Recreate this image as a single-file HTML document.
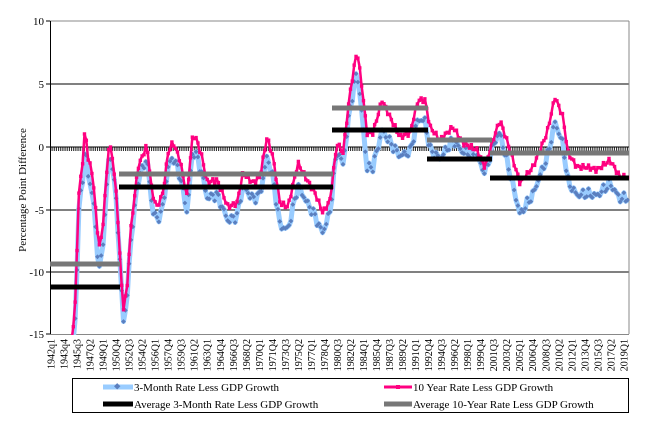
<!DOCTYPE html>
<html><head><meta charset="utf-8"><style>
html,body{margin:0;padding:0;background:#fff;}
svg{display:block;font-family:"Liberation Serif",serif;}
</style></head><body>
<svg id="c" width="655" height="444" viewBox="0 0 655 444" xmlns="http://www.w3.org/2000/svg">
<rect width="655" height="444" fill="#fff"/>
<g stroke="#000" stroke-width="1">
<line x1="50" y1="21" x2="629" y2="21" stroke="#888"/>
<line x1="50" y1="84" x2="629" y2="84"/>
<line x1="50" y1="210" x2="629" y2="210"/>
<line x1="50" y1="272" x2="629" y2="272"/>
<line x1="50" y1="334.5" x2="629" y2="334.5" stroke="#888"/>
<line x1="629" y1="21" x2="629" y2="334" stroke="#888"/>
<line x1="50.5" y1="21" x2="50.5" y2="334"/>
<line x1="50" y1="147" x2="629" y2="147"/>
</g>
<g id="ticks" stroke="#000" stroke-width="0.8"></g>
<g font-size="11" text-anchor="end">
<text x="44" y="25">10</text><text x="44" y="88">5</text><text x="44" y="151">0</text>
<text x="44" y="214">-5</text><text x="44" y="276">-10</text><text x="44" y="338">-15</text>
<line x1="46" y1="21" x2="50" y2="21" stroke="#000"/><line x1="46" y1="84" x2="50" y2="84" stroke="#000"/>
<line x1="46" y1="147" x2="50" y2="147" stroke="#000"/><line x1="46" y1="210" x2="50" y2="210" stroke="#000"/>
<line x1="46" y1="272" x2="50" y2="272" stroke="#000"/><line x1="46" y1="334" x2="50" y2="334" stroke="#000"/>
</g>
<text transform="translate(26,190) rotate(-90)" font-size="11" text-anchor="middle">Percentage Point Difference</text>
<g id="series"></g>
<g stroke-width="5" stroke-linecap="butt">
<line x1="50" y1="264" x2="120" y2="264" stroke="#777"/>
<line x1="50" y1="287" x2="120" y2="287" stroke="#000"/>
<line x1="119" y1="174" x2="333" y2="174" stroke="#777"/>
<line x1="119" y1="187" x2="333" y2="187" stroke="#000"/>
<line x1="332" y1="108" x2="428" y2="108" stroke="#777"/>
<line x1="332" y1="130" x2="428" y2="130" stroke="#000"/>
<line x1="427" y1="140" x2="492" y2="140" stroke="#777"/>
<line x1="427" y1="159" x2="492" y2="159" stroke="#000"/>
<line x1="490" y1="153" x2="629" y2="153" stroke="#777"/>
<line x1="490" y1="178" x2="629" y2="178" stroke="#000"/>
</g>
<g id="xl" font-size="10"></g>
<rect x="72.5" y="378.5" width="556" height="34" fill="#fff" stroke="#000"/>
<g font-size="11">
<line x1="103" y1="387" x2="133" y2="387" stroke="#99ccff" stroke-width="5"/>
<rect x="115" y="384" width="4.5" height="4.5" fill="#5b7fbf" transform="rotate(45 117.2 386.2)"/>
<text x="134" y="391">3-Month Rate Less GDP Growth</text>
<line x1="384" y1="387" x2="412" y2="387" stroke="#ff0080" stroke-width="3"/>
<rect x="396" y="385" width="4" height="4" fill="#ff0080"/>
<text x="413" y="391">10 Year Rate Less GDP Growth</text>
<line x1="103" y1="404" x2="133" y2="404" stroke="#000" stroke-width="5"/>
<text x="134" y="408">Average 3-Month Rate Less GDP Growth</text>
<line x1="384" y1="404" x2="412" y2="404" stroke="#777" stroke-width="5"/>
<text x="413" y="408">Average 10-Year Rate Less GDP Growth</text>
</g>
</svg>
<script>
(function(){
var NS="http://www.w3.org/2000/svg";
function el(t,a,p){var e=document.createElementNS(NS,t);for(var k in a)e.setAttribute(k,a[k]);p.appendChild(e);return e;}
var svg=document.getElementById('c');
var ticks=document.getElementById('ticks');
var X0=51,DX=1.86,N=311;
for(var i=0;i<N;i++){var x=X0+i*DX;if(x>629)break;el('line',{x1:x,y1:147,x2:x,y2:151},ticks);}
var labs="1942q1,1943q4,1945q3,1947Q2,1949Q1,1950Q4,1952Q3,1954Q2,1956Q1,1957Q4,1959Q3,1961Q2,1963Q1,1964Q4,1966Q3,1968Q2,1970Q1,1971Q4,1973Q3,1975Q2,1977Q1,1978Q4,1980Q3,1982Q2,1984Q1,1985Q4,1987Q3,1989Q2,1991Q1,1992Q4,1994Q3,1996Q2,1998Q1,1999Q4,2001Q3,2003Q2,2005Q1,2006Q4,2008Q3,2010Q2,2012Q1,2013Q4,2015Q3,2017Q2,2019Q1".split(',');
var xl=document.getElementById('xl');
labs.forEach(function(l,k){var x=X0+k*13.02+3.5;var t=el('text',{transform:'translate('+x+',339) rotate(-90)','text-anchor':'end'},xl);t.textContent=l;});
function Y(v){return 147-v*12.6;}
function V(y){return (147-y)/12.6;}
var P=[[51,420],[66,380],[72,337],[75,310],[79,190],[82,170],[85,128],[88,157],[93,177],[97,227],[100,250],[103,223],[107,170],[109,143],[113,160],[117,203],[120,257],[123,310],[127,290],[130,237],[133,210],[138,167],[147,145],[152,193],[157,207],[163,193],[168,153],[173,142],[180,160],[187,197],[192,140],[195,135],[202,157],[207,182],[217,180],[228,207],[237,203],[243,173],[253,183],[260,177],[267,137],[273,157],[280,203],[288,207],[298,163],[307,180],[315,193],[323,213],[330,200],[337,143],[343,153],[350,93],[357,50],[362,87],[367,133],[373,133],[382,100],[390,117],[400,137],[410,133],[418,100],[425,100],[430,127],[440,140],[453,127],[463,143],[477,150],[485,167],[493,140],[500,120],[510,150],[520,183],[533,167],[547,133],[555,97],[563,117],[568,153],[577,167],[587,167],[597,170],[610,160],[620,177],[629,177]];
var O=[[51,-1],[95,-1.5],[100,-1.8],[110,-0.8],[120,-0.5],[124,-0.9],[140,-1],[200,-1.3],[240,-1],[280,-1.8],[320,-1.8],[335,-0.5],[357,-1.6],[367,-2.8],[380,-2.5],[400,-1.5],[418,-1.5],[430,-1.8],[470,-0.5],[495,-0.5],[505,-1.5],[520,-2.5],[540,-2],[555,-2],[570,-2.3],[600,-2],[629,-1.6]];
function interp(A,x){if(x<=A[0][0])return A[0][1];for(var i=1;i<A.length;i++){if(x<=A[i][0]){var a=A[i-1],b=A[i];return a[1]+(b[1]-a[1])*(x-a[0])/(b[0]-a[0]);}}return A[A.length-1][1];}
var pp=[],bp=[];
for(var i=0;i<N;i++){var x=X0+i*DX;if(x>629.5)break;var py=interp(P,x)+Math.sin(i*2.3)*2.5;var v=V(py);var w=Math.sin(i*1.7)*0.25;var bv=v+interp(O,x)+w;pp.push([x,py]);bp.push([x,Y(bv)]);}
var g=document.getElementById('series');
var defs=el('defs',{},svg);var cp=el('clipPath',{id:'cl'},defs);el('rect',{x:50,y:15,width:580,height:320},cp);
g.setAttribute('clip-path','url(#cl)');
function pts(a){return a.map(function(p){return p[0].toFixed(1)+','+p[1].toFixed(1);}).join(' ');}
el('polyline',{points:pts(bp),fill:'none',stroke:'#99ccff','stroke-width':5,'stroke-linejoin':'round'},g);
bp.forEach(function(p){el('rect',{x:p[0]-1.7,y:p[1]-1.7,width:3.4,height:3.4,fill:'#5b7fbf',transform:'rotate(45 '+p[0].toFixed(1)+' '+p[1].toFixed(1)+')'},g);});
el('polyline',{points:pts(pp),fill:'none',stroke:'#ff0080','stroke-width':2.5,'stroke-linejoin':'round'},g);
pp.forEach(function(p){el('rect',{x:p[0]-1.7,y:p[1]-1.7,width:3.4,height:3.4,fill:'#ff0080'},g);});
})();
</script>
</body></html>
